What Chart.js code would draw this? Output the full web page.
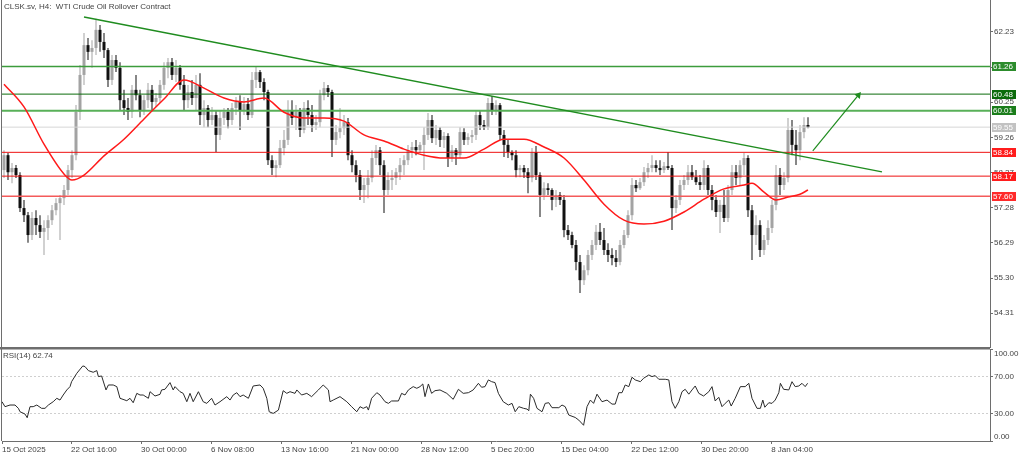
<!DOCTYPE html>
<html>
<head>
<meta charset="utf-8">
<script src="https://cdn.jsdelivr.net/npm/chart.js@4.4.1/dist/chart.umd.min.js"></script>
<style>
html, body { margin: 0; padding: 0; background: #fff; overflow: hidden; }
canvas { position: absolute; left: 0; }
#main { top: 0; }
#rsi { top: 348px; }
</style>
</head>
<body>
<canvas id="main" width="1024" height="348"></canvas>
<canvas id="rsi" width="1024" height="108"></canvas>
<script>
// CLSK.sv H4 candles, one entry per bar
const opens = [58.34,58.76,58.28,58.40,58.20,57.27,57.07,56.51,56.99,56.79,
  56.60,56.71,56.93,57.21,57.41,57.55,57.78,58.34,58.76,59.98,
  61.02,61.86,61.67,61.78,62.29,61.95,61.72,60.88,61.44,61.22,
  60.31,60.09,59.98,60.60,60.45,60.03,60.31,60.60,60.26,60.37,
  60.74,61.22,61.38,61.02,61.22,60.74,60.31,60.54,60.37,60.74,
  59.89,60.09,59.75,59.89,59.33,59.81,59.98,59.75,60.09,60.26,
  60.03,60.20,59.89,60.88,61.10,60.82,60.54,58.62,58.40,58.48,
  58.96,59.19,60.03,59.81,59.98,59.47,60.09,59.89,59.61,59.69,
  60.45,60.65,60.54,59.19,59.41,59.52,59.69,58.76,58.48,58.20,
  57.78,57.92,58.12,58.68,58.90,58.48,57.78,58.06,58.12,58.28,
  58.48,58.62,58.90,58.99,58.90,59.05,59.33,59.75,59.24,59.47,
  59.19,59.30,58.68,58.90,58.76,59.41,59.19,59.27,59.33,59.89,
  59.61,59.55,60.23,60.03,60.17,59.33,59.05,58.85,58.76,58.34,
  58.40,58.28,58.12,58.85,58.20,57.64,57.83,57.78,57.50,57.64,
  57.50,56.65,56.51,56.23,55.75,55.24,55.52,55.95,56.23,56.60,
  56.37,56.09,55.95,55.86,55.75,56.23,56.51,57.07,57.92,57.83,
  58.00,58.28,58.40,58.48,58.40,58.34,58.45,58.40,57.27,57.50,
  57.92,58.06,58.28,58.14,58.00,57.92,58.40,57.78,57.50,57.16,
  57.36,56.99,57.78,58.28,58.12,58.48,58.68,57.21,56.51,56.79,
  56.09,56.37,56.71,57.36,58.20,57.92,58.12,59.47,59.05,58.90,
  59.41,59.61];
const highs = [58.90,58.82,58.54,58.48,58.28,57.50,57.16,57.16,57.21,57.07,
  56.93,57.07,57.36,57.55,57.64,57.92,58.48,58.90,60.17,61.30,
  62.20,62.06,62.00,62.60,62.43,62.20,61.78,61.58,61.58,61.38,
  60.60,60.37,60.74,61.02,60.60,60.45,60.79,60.74,60.51,60.88,
  61.38,61.50,61.50,61.44,61.30,61.02,60.74,60.88,61.02,61.07,
  60.31,60.17,60.12,60.03,60.03,60.09,60.09,60.23,60.40,60.45,
  60.40,60.37,61.10,61.27,61.16,60.93,60.60,58.76,58.62,59.19,
  59.47,60.31,60.31,60.17,60.09,60.26,60.31,60.17,59.89,60.60,
  60.82,60.74,60.60,59.61,60.09,59.89,59.81,58.90,58.62,58.34,
  58.12,58.34,58.90,59.05,58.99,58.62,58.28,58.34,58.40,58.68,
  58.76,59.05,59.13,59.19,59.13,59.55,59.95,59.89,59.61,59.55,
  59.41,59.38,59.05,58.96,59.55,59.52,59.38,59.47,60.03,60.03,
  59.75,60.37,60.43,60.31,60.23,59.47,59.19,58.90,58.90,58.48,
  58.48,58.40,58.96,59.02,58.28,58.00,57.97,57.83,57.78,57.72,
  57.64,56.79,56.60,56.37,55.95,55.66,56.09,56.37,56.79,56.85,
  56.71,56.28,56.14,56.09,56.37,56.65,57.21,58.12,58.06,58.12,
  58.43,58.54,58.76,58.62,58.62,58.57,58.85,58.48,57.64,58.06,
  58.20,58.48,58.48,58.34,58.20,58.62,58.48,57.92,57.64,57.50,
  57.78,57.92,58.48,58.48,58.62,58.82,58.76,57.36,57.07,56.93,
  56.51,56.93,57.50,58.48,58.40,58.28,59.81,59.75,59.47,59.61,
  59.83,59.83];
const lows = [58.12,58.06,57.97,58.12,57.16,56.88,56.29,56.37,56.51,56.43,
  55.95,56.37,56.79,57.07,56.37,57.36,57.64,58.12,58.62,59.75,
  60.74,61.44,61.22,61.58,61.67,61.50,60.68,60.74,61.10,60.03,
  59.89,59.75,59.81,60.31,59.83,59.89,60.09,60.03,60.12,60.23,
  60.60,60.93,60.88,60.82,60.60,60.03,60.09,60.17,60.03,59.61,
  59.55,59.55,59.61,58.85,59.19,59.61,59.52,59.61,59.89,59.47,
  59.89,59.75,59.81,60.65,60.65,60.31,58.48,58.20,58.14,58.40,
  58.76,59.05,59.61,59.47,59.27,59.38,59.61,59.41,59.47,59.55,
  60.31,60.40,58.71,59.05,59.24,59.33,58.62,58.28,58.00,57.50,
  57.41,57.55,58.00,58.48,58.20,57.13,57.64,57.78,57.92,58.06,
  58.20,58.48,58.68,58.76,58.82,58.34,59.19,59.10,59.05,58.99,
  58.96,58.43,58.57,58.48,58.68,59.05,59.05,59.10,59.19,59.47,
  59.47,59.47,59.89,59.89,59.19,58.71,58.68,58.62,58.14,58.14,
  58.12,57.69,58.00,58.06,57.02,57.50,57.64,57.21,57.30,57.36,
  56.45,56.37,56.14,55.52,54.88,55.10,55.38,55.81,56.09,56.23,
  55.95,55.75,55.66,55.61,55.66,56.14,56.43,56.93,57.72,57.78,
  57.89,58.12,58.28,58.28,58.20,58.26,58.34,56.65,57.13,57.36,
  57.78,57.92,58.06,57.92,57.78,57.78,57.64,57.21,57.02,56.57,
  56.88,56.88,57.64,57.92,57.92,58.20,57.02,55.81,56.23,55.89,
  55.95,56.23,56.57,57.21,57.64,57.78,58.00,58.76,58.48,58.62,
  59.24,59.52];
const closes = [58.76,58.28,58.40,58.20,57.27,57.07,56.51,56.99,56.79,56.60,
  56.71,56.93,57.21,57.41,57.55,57.78,58.34,58.76,59.98,61.02,
  61.86,61.67,61.78,62.29,61.95,61.72,60.88,61.44,61.22,60.31,
  60.09,59.98,60.60,60.45,60.03,60.31,60.60,60.26,60.37,60.74,
  61.22,61.38,61.02,61.22,60.74,60.31,60.54,60.37,60.74,59.89,
  60.09,59.75,59.89,59.33,59.81,59.98,59.75,60.09,60.26,60.03,
  60.20,59.89,60.88,61.10,60.82,60.54,58.62,58.40,58.48,58.96,
  59.19,60.03,59.81,59.98,59.47,60.09,59.89,59.61,59.69,60.45,
  60.65,60.54,59.19,59.41,59.52,59.69,58.76,58.48,58.20,57.78,
  57.92,58.12,58.68,58.90,58.48,57.78,58.06,58.12,58.28,58.48,
  58.62,58.90,58.99,58.90,59.05,59.33,59.75,59.24,59.47,59.19,
  59.30,58.68,58.90,58.76,59.41,59.19,59.27,59.33,59.89,59.61,
  59.55,60.23,60.03,60.17,59.33,59.05,58.85,58.76,58.34,58.40,
  58.28,58.12,58.85,58.20,57.64,57.83,57.78,57.50,57.64,57.50,
  56.65,56.51,56.23,55.75,55.24,55.52,55.95,56.23,56.60,56.37,
  56.09,55.95,55.86,55.75,56.23,56.51,57.07,57.92,57.83,58.00,
  58.28,58.40,58.48,58.40,58.34,58.45,58.40,57.27,57.50,57.92,
  58.06,58.28,58.14,58.00,57.92,58.40,57.78,57.50,57.16,57.36,
  56.99,57.78,58.28,58.12,58.48,58.68,57.21,56.51,56.79,56.09,
  56.37,56.71,57.36,58.20,57.92,58.12,59.47,59.05,58.90,59.41,
  59.61,59.55];

// red moving average, read at a few bars
const maBars = [0,5,10,15,17,20,25,30,35,40,45,50,55,60,65,70,75,80,85,90,
  95,100,105,110,115,120,125,130,135,140,145,150,155,160,165,170,175,180,185,187,
  190,193,196,199,201];
const maValues = [60.76,60.12,59.07,58.23,58.06,58.20,58.74,59.21,59.78,60.34,60.88,60.65,60.37,60.26,60.37,59.97,59.81,59.81,59.72,59.33,
  59.16,58.93,58.76,58.68,58.68,58.93,59.21,59.21,58.99,58.68,58.06,57.38,56.93,56.82,56.90,57.16,57.52,57.81,57.92,57.97,
  57.72,57.50,57.58,57.66,57.78];

// RSI(14)
const rsiBars = [-0.5,0.25,1.5,2.75,3.6,4,5.25,5.8,6.5,7.3,
  8.2,9.4,10.25,11.1,12.3,13.2,14,14.8,15.7,16.5,
  16.9,18.2,19.7,20.25,21.1,22.3,23.2,23.6,24.4,25.5,
  26.1,27.3,28.2,29,30.7,31.5,32.3,33.2,34,34.8,
  36.1,36.5,37.75,39,39.4,40.25,41.5,42.3,42.75,44,
  44.8,45.7,46.5,47.3,48.6,49.8,50.7,51.9,52.75,54,
  55.7,56.5,57.3,58.2,59,59.8,61.1,62.3,64,64.8,
  65.7,66.3,67.3,68.6,69.8,70.7,71.5,72.75,73.2,74.4,
  75.7,76.9,78.6,79.8,81.1,81.5,82.3,84,85.7,86.9,
  88.2,89,89.8,90.7,91.1,91.9,93.2,94,95.25,96.1,
  96.9,98.6,99.4,100.25,101.1,102.3,103.2,104,104.7,105.25,
  106.1,106.9,107.75,109,110.7,112.3,113.6,114.8,116.1,117.3,
  118.6,119.4,120.25,121.1,121.9,122.75,123.6,124.8,126.1,127,
  127.8,128.7,129.9,130.75,131.2,131.6,132.4,133.25,134.5,135.3,
  136.2,137,138.7,139.5,140.3,141.2,142.8,143.7,144.9,145.75,
  146.6,147.4,148.25,149.5,150.75,152,152.8,153.7,154.5,155.3,
  156.2,157,157.8,159.1,159.9,161.2,162,162.8,163.7,165.3,
  166.2,167,167.8,168.7,169.5,170.3,171.2,172,172.8,173.7,
  174.9,176.2,177,177.8,178.7,179.5,180.3,181.2,181.8,182.8,
  184.1,185.3,186.2,187,188.25,189.1,189.7,190.2,191.2,192,
  192.8,193.7,194.1,194.9,196.2,197,197.8,198.7,199.5,200.3,
  200.9];
const rsiValues = [42.7,37.3,39.1,39.1,35.5,31.8,29.3,25.3,37.3,37.3,
  39.1,35.5,35.5,39.1,42.7,46.4,44.5,50,55.5,59.1,
  64.5,73.6,81.6,80.9,76.5,74.7,76.5,70,70.7,55.5,
  60.9,60.9,59.1,46.4,43.8,46.4,41.6,51.8,50,50,
  46.4,53.6,48.9,50.7,55.5,56.2,63.5,55.5,59.1,53.6,
  51.8,42.7,51.8,42.7,53.6,42.7,40.9,46.4,39.1,42.7,
  48.2,44.5,50,52.5,48.2,50,46.4,59.8,60.9,57.3,
  46.4,31.8,30,33.6,54.7,51.8,53.6,51.8,55.5,50,
  51.8,48.2,55.5,60.9,55.5,42.7,44.5,48.2,42.7,37.3,
  31.8,37.3,35.5,37.3,33.6,46.4,52.5,50,42.7,40.9,
  43.5,43.5,51.8,50,55.5,59.1,57.3,59.1,62,48.2,
  62,51.8,54.7,55.5,51.8,45.3,56.2,51.8,52.5,55.5,
  62.7,58.4,59.1,66.4,64.5,63.5,51.8,42.7,39.1,40.9,
  31.8,37.3,35.5,34.7,32.9,50.9,46.4,35.5,31.8,40.9,
  41.6,36.2,36.2,39.1,37.3,28.2,25.6,22.7,17.1,37.3,
  44.5,40.9,50.9,42.7,44.5,40.1,40.1,52.5,52.5,60.9,
  59.1,69.3,66.4,64.5,68.2,71.8,70,71.1,67.1,67.1,
  66.4,42.7,35.5,42.7,53.6,56.2,50.9,55.5,59.8,51.8,
  48.9,53.6,59.1,43.5,47.5,37.3,40.9,44.5,38,46.4,
  59.1,59.1,62.7,46.4,35.5,35.5,44.5,36.7,41.6,40.9,
  44.5,52.5,62.7,56.2,55.5,64.5,59.1,59.8,62.7,59.1,
  62.74];

const levelPrices = [61.26, 60.48, 60.01, 59.55, 58.84, 58.17, 57.60];
const priceTicks = [62.23, 61.24, 60.25, 59.26, 58.27, 57.28, 56.29, 55.30, 54.31];
const rsiTicks = [100, 70, 30, 0];
const timeTickBars = [-0.5, 16.75, 34.25, 51.75, 69.25, 86.75, 104.25, 121.75, 139.3, 156.8, 174.3, 191.8];
const timeTickLabels = ['15 Oct 2025', '22 Oct 16:00', '30 Oct 00:00', '6 Nov 08:00', '13 Nov 16:00', '21 Nov 00:00',
  '28 Nov 12:00', '5 Dec 20:00', '15 Dec 04:00', '22 Dec 12:00', '30 Dec 20:00', '8 Jan 04:00'];
const trendBars = [20, 219.5];
const trendPrices = [62.65, 58.29];
const arrowBars = [202.2, 213.6];
const arrowPrices = [58.88, 60.45];
const titleText = 'CLSK.sv, H4:  WTI Crude Oil Rollover Contract';
const rsiTitle = 'RSI(14) 62.74';

// view range
const xMin = -0.5, xMax = 246.5;
const yMin = 53.357, yMax = 63.131;

// styles
const FONT = '"Liberation Sans", Arial, sans-serif';
const AXIS = '#6e6e6e';
const TEXT = '#444';
const upColor = '#a3a3a3', downColor = '#111';
const levelStyles = [
  { line: '#3c9c3c', width: 1.5, box: '#2c8c2c' },
  { line: '#0b6b0b', width: 1,   box: '#0b6b0b' },
  { line: '#58b058', width: 2,   box: '#1b7d1b' },
  { line: '#d6d6d6', width: 1,   box: '#c2c2c2' },
  { line: '#ee1111', width: 1,   box: '#ff1c1c' },
  { line: '#ee1111', width: 1,   box: '#ff1c1c' },
  { line: '#f45a5a', width: 1.5, box: '#ff2a2a' }
];
const GREEN = '#1f8c1f';

const candleColors = closes.map((c, i) => c >= opens[i] ? upColor : downColor);

Chart.defaults.font.family = FONT;
Chart.defaults.font.size = 8;

const mainDecor = {
  id: 'mainDecor',
  afterDraw(chart) {
    const { ctx, chartArea: a, scales: { y } } = chart;
    ctx.save();
    ctx.strokeStyle = AXIS;
    ctx.lineWidth = 1;
    ctx.beginPath();
    ctx.moveTo(1.5, 0); ctx.lineTo(1.5, a.bottom + 1);
    ctx.moveTo(0, a.bottom + 0.5); ctx.lineTo(a.right, a.bottom + 0.5);
    ctx.stroke();

    ctx.font = '8px ' + FONT;
    ctx.textBaseline = 'middle';
    ctx.textAlign = 'left';
    ctx.fillStyle = TEXT;
    ctx.fillText(titleText, 4, 6.5);

    levelPrices.forEach((p, i) => {
      const py = y.getPixelForValue(p);
      ctx.fillStyle = levelStyles[i].box;
      ctx.fillRect(a.right + 2, Math.round(py - 4.5), 24, 9);
      ctx.fillStyle = '#fff';
      ctx.fillText(p.toFixed(2), a.right + 3, Math.round(py - 4.5) + 4.8);
    });
    ctx.restore();
  }
};

new Chart(document.getElementById('main'), {
  type: 'bar',
  data: {
    datasets: [
      ...levelPrices.map((p, i) => ({
        type: 'line',
        data: [{ x: xMin, y: p }, { x: xMax, y: p }],
        borderColor: levelStyles[i].line,
        borderWidth: levelStyles[i].width,
        pointRadius: 0,
        order: 3
      })),
      {
        type: 'bar',
        data: lows.map((l, i) => ({ x: i, y: [l, highs[i]] })),
        backgroundColor: candleColors,
        maxBarThickness: 1,
        barPercentage: 1,
        categoryPercentage: 1,
        grouped: false,
        inflateAmount: 0,
        order: 5
      },
      {
        type: 'bar',
        data: opens.map((o, i) => ({ x: i, y: [o, closes[i]] })),
        backgroundColor: candleColors,
        maxBarThickness: 3,
        barPercentage: 1,
        categoryPercentage: 1,
        grouped: false,
        minBarLength: 1,
        inflateAmount: 0,
        order: 4
      },
      {
        type: 'line',
        data: maBars.map((b, i) => ({ x: b, y: maValues[i] })),
        borderColor: '#ff1a1a',
        borderWidth: 1.5,
        pointRadius: 0,
        cubicInterpolationMode: 'monotone',
        order: 2
      },
      {
        type: 'line',
        data: trendBars.map((b, i) => ({ x: b, y: trendPrices[i] })),
        borderColor: GREEN,
        borderWidth: 1.5,
        pointRadius: 0,
        order: 1
      },
      {
        type: 'line',
        data: arrowBars.map((b, i) => ({ x: b, y: arrowPrices[i] })),
        borderColor: GREEN,
        borderWidth: 1.2,
        pointRadius: [0, 4],
        pointStyle: 'triangle',
        pointRotation: 39,
        pointBackgroundColor: GREEN,
        pointBorderWidth: 0,
        order: 1
      }
    ]
  },
  options: {
    responsive: false,
    animation: false,
    devicePixelRatio: 1,
    layout: { autoPadding: false, padding: { left: 2, right: 0, top: 0, bottom: 1 } },
    plugins: { legend: { display: false }, tooltip: { enabled: false } },
    scales: {
      x: { type: 'linear', min: xMin, max: xMax, offset: false, display: false },
      y: {
        position: 'right',
        min: yMin,
        max: yMax,
        afterBuildTicks: (s) => { s.ticks = priceTicks.map(v => ({ value: v })); },
        afterFit: (s) => { s.width = 34; s.paddingTop = 0; s.paddingBottom = 0; },
        grid: { drawOnChartArea: false, tickLength: 3, color: AXIS, tickColor: AXIS },
        border: { color: AXIS, width: 1 },
        ticks: { autoSkip: false, padding: 1, color: TEXT, font: { size: 8 }, callback: (v) => Number(v).toFixed(2) }
      }
    }
  },
  plugins: [mainDecor]
});

const rsiDecor = {
  id: 'rsiDecor',
  afterDraw(chart) {
    const { ctx, chartArea: a, scales: { y } } = chart;
    ctx.save();
    ctx.strokeStyle = AXIS;
    ctx.lineWidth = 1.5;
    ctx.beginPath();
    ctx.moveTo(0, a.top - 0.25); ctx.lineTo(a.right, a.top - 0.25);
    ctx.stroke();
    ctx.lineWidth = 1;
    ctx.beginPath();
    ctx.moveTo(1.5, 0); ctx.lineTo(1.5, a.bottom);
    ctx.stroke();

    ctx.font = '8px ' + FONT;
    ctx.textBaseline = 'middle';
    ctx.textAlign = 'left';
    ctx.fillStyle = TEXT;
    ctx.fillText(rsiTitle, 3, 7.5);
    rsiTicks.forEach(v => {
      const py = Math.min(Math.max(y.getPixelForValue(v), a.top + 5), a.bottom - 4);
      ctx.fillText(v.toFixed(2), a.right + 4, py);
    });
    ctx.restore();
  }
};

new Chart(document.getElementById('rsi'), {
  type: 'line',
  data: {
    datasets: [{
      data: rsiBars.map((b, i) => ({ x: b, y: rsiValues[i] })),
      borderColor: '#2a2a2a',
      borderWidth: 1,
      pointRadius: 0,
      tension: 0
    }]
  },
  options: {
    responsive: false,
    animation: false,
    devicePixelRatio: 1,
    layout: { autoPadding: false, padding: { left: 2, right: 0, top: 1, bottom: 0 } },
    plugins: { legend: { display: false }, tooltip: { enabled: false } },
    scales: {
      x: {
        type: 'linear',
        min: xMin,
        max: xMax,
        offset: false,
        afterBuildTicks: (s) => { s.ticks = timeTickBars.map(v => ({ value: v })); },
        afterFit: (s) => { s.height = 15; s.paddingLeft = 0; s.paddingRight = 0; },
        grid: { drawOnChartArea: false, tickLength: 3, color: AXIS, tickColor: AXIS },
        border: { color: AXIS, width: 1 },
        ticks: { autoSkip: false, maxRotation: 0, align: 'start', padding: 1, color: TEXT, font: { size: 8 },
          callback: (v, i) => timeTickLabels[i] }
      },
      y: {
        position: 'right',
        min: 0,
        max: 100,
        afterBuildTicks: (s) => { s.ticks = rsiTicks.map(v => ({ value: v })); },
        afterFit: (s) => { s.width = 34; s.paddingTop = 0; s.paddingBottom = 0; },
        grid: {
          drawOnChartArea: true,
          tickLength: 3,
          tickColor: AXIS,
          color: (c) => (c.tick && (c.tick.value === 70 || c.tick.value === 30)) ? '#cfcfcf' : 'rgba(0,0,0,0)'
        },
        border: { color: AXIS, width: 1, dash: [2, 2] },
        ticks: { display: false }
      }
    }
  },
  plugins: [rsiDecor]
});
</script>
</body>
</html>
